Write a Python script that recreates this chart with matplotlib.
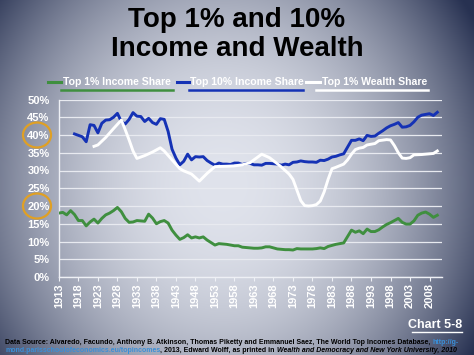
import numpy as np
import matplotlib
matplotlib.use("Agg")
import matplotlib.pyplot as plt
from matplotlib.lines import Line2D
from matplotlib.patches import Ellipse

# ---- data ----
years_top1_income = list(range(1913, 2011))
top1_income = [
    18.0, 18.2, 17.5, 18.7, 17.6, 15.9, 15.9, 14.4, 15.5, 16.3,   # 1913-1922
    15.2, 16.5, 17.5, 18.0, 18.7, 19.6, 18.4, 16.5, 15.4, 15.5,   # 1923-1932
    15.9, 15.8, 15.7, 17.7, 16.6, 15.0, 15.6, 15.9, 15.2, 13.2,   # 1933-1942
    11.8, 10.6, 11.1, 11.9, 11.0, 11.3, 11.0, 11.3, 10.4, 9.7,    # 1943-1952
    9.0, 9.4, 9.3, 9.2, 9.0, 8.8, 8.8, 8.4, 8.3, 8.2,             # 1953-1962
    8.1, 8.1, 8.2, 8.5, 8.5, 8.2, 7.9, 7.8, 7.7, 7.7,             # 1963-1972
    7.6, 8.0, 7.9, 7.9, 7.9, 7.9, 8.0, 8.2, 8.0, 8.6,             # 1973-1982
    8.9, 9.2, 9.4, 9.6, 11.4, 13.2, 12.6, 13.0, 12.2, 13.5,       # 1983-1992
    12.8, 12.8, 13.3, 14.1, 14.8, 15.3, 15.9, 16.5, 15.4, 14.9,   # 1993-2002
    14.9, 15.8, 17.4, 18.0, 18.3, 17.7, 16.8, 17.4,               # 2003-2010
]

years_top10_income = list(range(1917, 2011))
top10_income = [
    40.3, 39.9, 39.5, 38.1, 42.9, 42.7,                           # 1917-1922
    40.6, 43.3, 44.2, 44.3, 45.0, 46.1, 43.8, 43.1, 44.4, 46.3,   # 1923-1932
    45.3, 45.2, 43.8, 44.7, 43.5, 43.0, 44.6, 44.4, 41.0, 36.0,   # 1933-1942
    33.5, 31.6, 32.6, 34.6, 33.0, 33.9, 33.8, 33.9, 32.8, 32.1,   # 1943-1952
    31.5, 32.1, 31.8, 31.8, 31.7, 32.1, 32.1, 31.7, 32.0, 32.0,   # 1953-1962
    31.6, 31.6, 31.5, 32.0, 32.0, 31.9, 31.8, 31.5, 31.8, 31.6,   # 1963-1972
    32.3, 32.4, 32.7, 32.5, 32.4, 32.4, 32.3, 32.9, 32.8, 33.2,   # 1973-1982
    33.8, 34.0, 34.4, 34.7, 36.6, 38.5, 38.5, 38.9, 38.4, 39.9,   # 1983-1992
    39.6, 39.7, 40.5, 41.2, 42.0, 42.6, 43.0, 43.5, 42.2, 42.3,   # 1993-2002
    42.7, 43.7, 45.0, 45.6, 45.8, 46.0, 45.5, 46.4,               # 2003-2010
]

years_top1_wealth = [
    1922, 1923, 1925, 1927, 1929, 1930, 1931, 1932, 1933, 1935, 1937,
    1939, 1940, 1942, 1944, 1945, 1947, 1949, 1951, 1953, 1956, 1958,
    1960, 1962, 1964, 1965, 1967, 1969, 1970, 1971, 1972, 1973, 1974,
    1975, 1976, 1977, 1978, 1979, 1980, 1981, 1982, 1983, 1984, 1986,
    1987, 1988, 1989, 1990, 1991, 1992, 1994, 1995, 1997, 1998, 1999,
    2000, 2001, 2002, 2003, 2004, 2006, 2007, 2008, 2009, 2010,
]
top1_wealth = [
    36.8, 37.2, 39.3, 41.8, 44.2, 41.5, 38.6, 35.5, 33.4, 34.2, 35.2,
    36.4, 35.5, 33.0, 30.5, 29.9, 29.0, 27.0, 29.2, 31.1, 31.2, 31.3,
    31.6, 32.2, 33.8, 34.6, 33.6, 31.9, 31.0, 30.0, 29.0, 27.5, 24.5,
    21.5, 20.1, 20.0, 20.1, 20.4, 21.4, 24.0, 27.5, 30.5, 30.9, 31.8,
    33.0, 34.6, 35.9, 36.3, 36.5, 37.2, 37.6, 38.4, 38.7, 38.6, 37.0,
    35.0, 33.5, 33.4, 33.6, 34.4, 34.5, 34.6, 34.7, 34.8, 35.5,
]

tick_years = list(range(1913, 2009, 5))
tick_pcts = list(range(0, 51, 5))
circled_pcts = [40, 20]

series_names = ["Top 1% Income Share", "Top 10% Income Share", "Top 1% Wealth Share"]

GREEN = "#3f8f3f"
BLUE = "#1532b5"
WHITE = "#ffffff"
ORANGE = "#e0a024"
LINK = "#3a8fd8"
FONT = "Liberation Sans"

W, H = 474, 355
fig = plt.figure(figsize=(W / 100, H / 100), dpi=100)

# background: radial slide gradient
bg = fig.add_axes([0, 0, 1, 1], zorder=-10)
gx, gy = np.meshgrid(np.linspace(0, 1, W), np.linspace(0, 1, H))
d = np.sqrt(((gx - 0.47) / 0.62) ** 2 + ((gy - 0.52) / 0.9) ** 2)
t = np.clip(d, 0, 1) ** 2.1
center = np.array([224, 227, 236]) / 255
edge = np.array([40, 50, 82]) / 255
img = center[None, None, :] * (1 - t[..., None]) + edge[None, None, :] * t[..., None]
bg.imshow(img, aspect="auto", extent=[0, 1, 0, 1], origin="upper")
bg.set_axis_off()


def fx(px):
    return px / W


def fy(py):
    return 1 - py / H


ax = fig.add_axes([fx(58.5), fy(277), fx(442) - fx(58.5), fy(99.5) - fy(277)])
ax.patch.set_alpha(0)

ax.plot(years_top1_income, top1_income, color=GREEN, lw=2.1, solid_joinstyle="round", zorder=3)
ax.plot(years_top10_income, top10_income, color=BLUE, lw=2.1, solid_joinstyle="round", zorder=3)
ax.plot(years_top1_wealth, top1_wealth, color=WHITE, lw=2.1, solid_joinstyle="round", zorder=4)

ax.set_ylim(0, 50)
ax.set_xlim(1912.9, 2011.2)
ax.set_yticks(tick_pcts)
ax.set_yticklabels([f"{p}%" for p in tick_pcts])
ax.set_xticks(tick_years)
ax.set_xticklabels([str(y) for y in tick_years], rotation=90)
ax.grid(axis="y", color="#e8eaf0", lw=0.9)
ax.set_axisbelow(True)
for s in ["top", "right"]:
    ax.spines[s].set_visible(False)
for s in ["left", "bottom"]:
    ax.spines[s].set_color("#eef0f5")
    ax.spines[s].set_linewidth(1.0)
ax.tick_params(axis="y", length=0, pad=6.5, labelcolor="white")
ax.tick_params(axis="x", length=3, width=0.8, color="#eef0f5", direction="out",
               pad=1.5, labelcolor="white")
for lab in ax.get_xticklabels() + ax.get_yticklabels():
    lab.set_fontfamily(FONT)
    lab.set_fontweight("bold")
    lab.set_fontsize(8)

# orange circles round 40% and 20%
for p in circled_pcts:
    yp = 277 - p * (277 - 99.5) / 50
    fig.add_artist(Ellipse((fx(37), fy(yp)), 28 / W, 25 / H, transform=fig.transFigure,
                           fill=False, ec=ORANGE, lw=1.6))

# title
fig.text(0.5, fy(20), "Top 1% and 10%", ha="center", va="center", fontsize=20,
         fontweight="bold", family=FONT, color="black")
fig.text(0.5, fy(49), "Income and Wealth", ha="center", va="center", fontsize=20,
         fontweight="bold", family=FONT, color="black")

# legend with sample line and underline
legend_layout = [
    (GREEN, (48, 61), 63, (61, 173)),
    (BLUE, (177, 189), 190, (189, 303)),
    (WHITE, (306, 320), 322, (316, 428)),
]
for name, (col, (s0, s1), tx, (u0, u1)) in zip(series_names, legend_layout):
    fig.add_artist(Line2D([fx(s0), fx(s1)], [fy(82), fy(82)], color=col, lw=2.2,
                          transform=fig.transFigure))
    fig.add_artist(Line2D([fx(u0), fx(u1)], [fy(89.5), fy(89.5)], color=col, lw=1.8,
                          transform=fig.transFigure))
    fig.text(fx(tx), fy(82), name, ha="left", va="center", fontsize=7.6,
             fontweight="bold", family=FONT, color="white")

# chart number
fig.text(fx(462), fy(325), "Chart 5-8", ha="right", va="center", fontsize=9,
         fontweight="bold", family=FONT, color="white")
fig.add_artist(Line2D([fx(412), fx(462)], [fy(332), fy(332)], color="white", lw=1,
                      transform=fig.transFigure))

# source note, written piece by piece so the styles can change mid-line
renderer = fig.canvas.get_renderer()


def chain(x_px, y_px, parts):
    x = x_px
    for txt, col, sty in parts:
        tt = fig.text(fx(x), fy(y_px), txt, ha="left", va="center", fontsize=5.0,
                      fontweight="bold", style=sty, family=FONT, color=col)
        x += tt.get_window_extent(renderer).width


chain(5, 342, [
    ("Data Source: Alvaredo, Facundo, Anthony B. Atkinson, Thomas Piketty and "
     "Emmanuel Saez, The World Top Incomes Database, ", "black", "normal"),
    ("http://g-", LINK, "normal"),
])
chain(5, 350, [
    ("mond.parisschoolofeconomics.eu/topincomes", LINK, "normal"),
    (", 2013, Edward Wolff, as printed in ", "black", "normal"),
    ("Wealth and Democracy and New York University, 2010", "black", "italic"),
])

fig.savefig("out.png", dpi=100)
